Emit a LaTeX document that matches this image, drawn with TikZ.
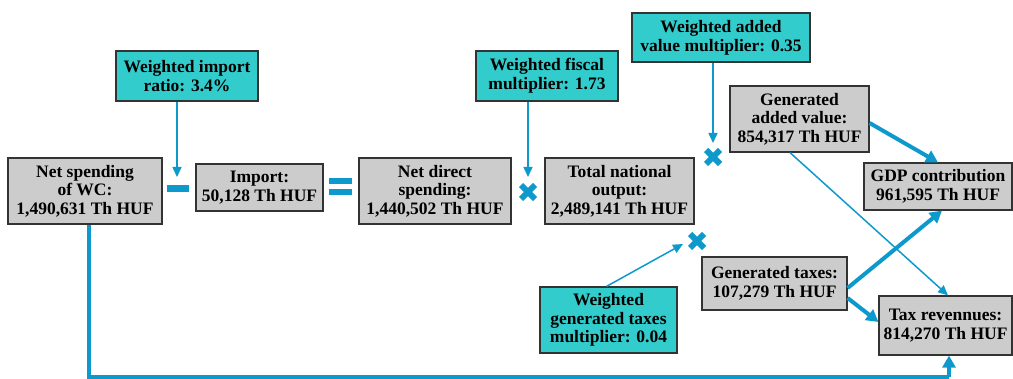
\documentclass[tikz,border=0pt]{standalone}
\usepackage{fontspec}
\setmainfont{Liberation Serif}
\usetikzlibrary{arrows.meta}
\definecolor{cyanfill}{HTML}{33CCCC}
\definecolor{grayfill}{HTML}{CCCCCC}
\definecolor{linkblue}{HTML}{0E99CC}
\definecolor{edge}{HTML}{333333}
\tikzset{
  box/.style={draw=edge, line width=1.2pt, rectangle, align=center, inner sep=0pt,
    font=\fontsize{17.5}{18.7}\selectfont\bfseries},
  gbox/.style={box, fill=grayfill},
  cbox/.style={box, fill=cyanfill},
  thinarrow/.style={draw=linkblue, line width=1.5pt, -{Triangle[length=10pt,width=9pt]}},
  thickarrow/.style={draw=linkblue, line width=4pt, -{Triangle[length=12pt,width=13pt]}},
  feed/.style={draw=linkblue, line width=4pt},
  crossmark/.style={draw=linkblue, line width=6pt},
}
\begin{document}
\begin{tikzpicture}[x=1pt,y=-1pt]
\useasboundingbox (0,0) rectangle (1013,379);
% boxes
\node[gbox, minimum width=154pt, minimum height=66pt] (ns) at (85,191) {Net spending\\of WC:\\1,490,631 Th HUF};
\node[gbox, minimum width=127pt, minimum height=47pt] (imp) at (259.5,187.5) {Import:\\50,128 Th HUF};
\node[gbox, minimum width=152pt, minimum height=66pt] (nds) at (435,191) {Net direct\\spending:\\1,440,502 Th HUF};
\node[gbox, minimum width=149pt, minimum height=66pt] (tno) at (619.5,191) {Total national\\output:\\2,489,141 Th HUF};
\node[cbox, minimum width=142pt, minimum height=50pt] (wir) at (187,76) {Weighted import\\ratio: 3.4\%};
\node[cbox, minimum width=142pt, minimum height=50pt] (wfm) at (547,76) {Weighted fiscal\\multiplier: 1.73};
\node[cbox, minimum width=178pt, minimum height=49pt] (wav) at (721,37.5) {Weighted added\\value multiplier: 0.35};
\node[gbox, minimum width=139pt, minimum height=66pt] (gav) at (799.5,119) {Generated\\added value:\\854,317 Th HUF};
\node[gbox, minimum width=148pt, minimum height=47pt] (gdp) at (938,186.5) {GDP contribution\\961,595 Th HUF};
\node[cbox, minimum width=137pt, minimum height=66pt] (wgt) at (608.5,320) {Weighted\\generated taxes\\multiplier: 0.04};
\node[gbox, minimum width=145pt, minimum height=53pt] (gt) at (774.5,283.5) {Generated taxes:\\107,279 Th HUF};
\node[gbox, minimum width=133pt, minimum height=59pt] (tr) at (945.5,325.5) {Tax revennues:\\814,270 Th HUF};
% operator symbols
\coordinate (minus) at (178,188.5);
\fill[linkblue] (167,185) rectangle (189,192);
\coordinate (equals) at (340.5,186);
\fill[linkblue] (329,178) rectangle (352,184);
\fill[linkblue] (329,189) rectangle (352,195);
\coordinate (c1) at (528,192);
\coordinate (c2) at (713,157);
\coordinate (c3) at (697,241);
\foreach \c in {c1,c2,c3}{
  \draw[crossmark] ([shift={(-7,-7)}]\c) -- ([shift={(7,7)}]\c);
  \draw[crossmark] ([shift={(-7,7)}]\c) -- ([shift={(7,-7)}]\c);
}
% arrow end points
\coordinate (t1) at (177,177);
\coordinate (t2) at (528,177);
\coordinate (t3) at (713,143);
\coordinate (t4) at (683,244);
\coordinate (fb1) at (89,377);
\coordinate (fb2) at (949,377);
% connectors
\draw[thinarrow] (wir.south -| t1) -- (t1);
\draw[thinarrow] (wfm.south -| t2) -- (t2);
\draw[thinarrow] (wav.south -| t3) -- (t3);
\draw[thinarrow] ([xshift=-2pt]wgt.north) -- (t4);
\draw[thickarrow] ([yshift=-4pt]gav.east) -- (gdp.north);
\draw[thinarrow] ([xshift=-9.5pt]gav.south) -- ([xshift=2.5pt]tr.north);
\draw[thickarrow] ([yshift=-4.5pt]gt.east) -- ([xshift=4pt]gdp.south);
\draw[thickarrow] ([yshift=-14.5pt]gt.east) -- ([yshift=3.5pt]tr.west);
\draw[feed] (ns.south -| fb1) -- (fb1) -- (fb2);
\draw[thickarrow] (fb2) -- (tr.south -| fb2);
\end{tikzpicture}
\end{document}
